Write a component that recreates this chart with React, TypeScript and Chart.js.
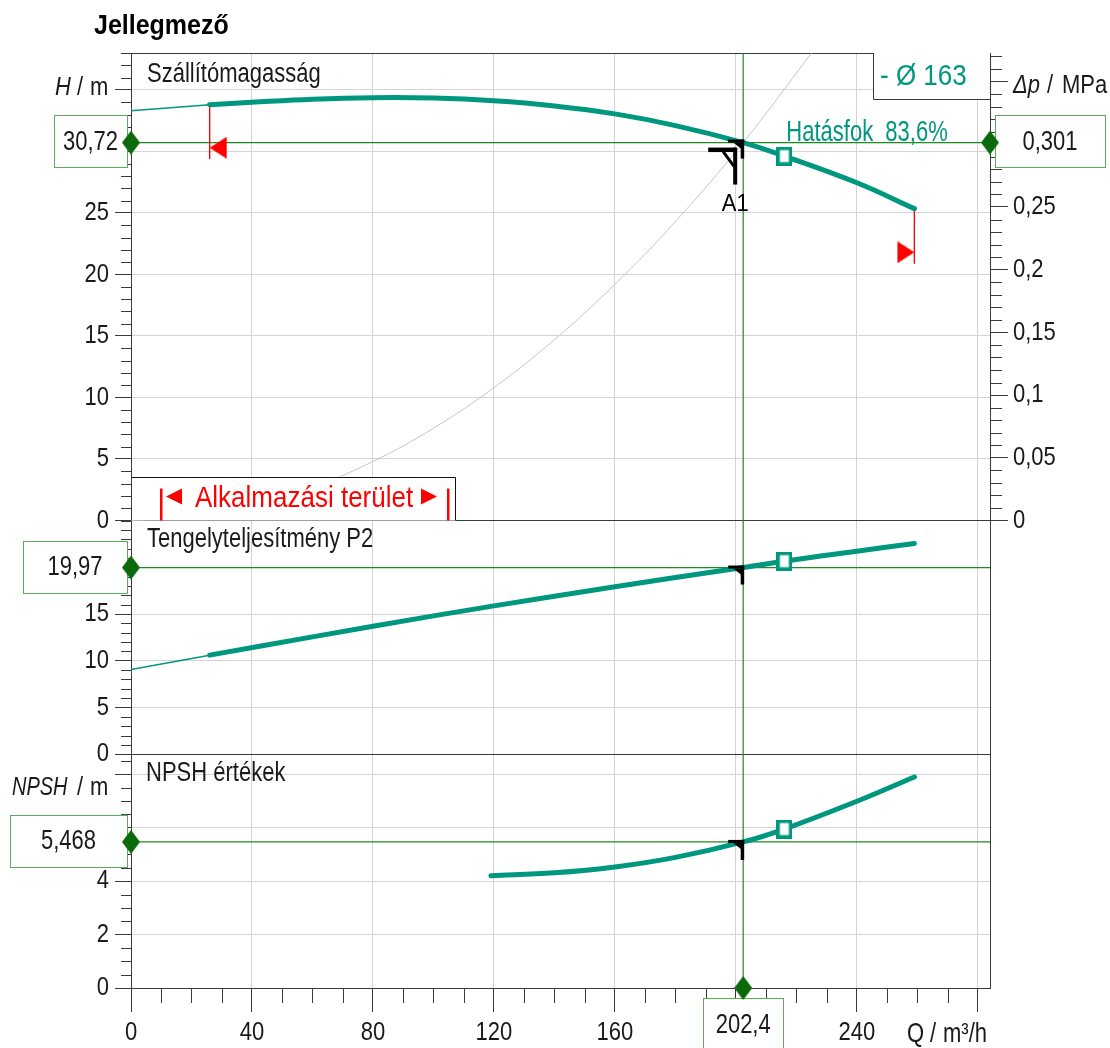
import React, { useEffect, useRef } from 'react';
import { Chart, registerables } from 'chart.js';

Chart.register(...registerables);

// ---------------- texts ----------------
const TITLE = 'Jellegmező';
const PANEL_TITLES = ['Szállítómagasság', 'Tengelyteljesítmény P2', 'NPSH értékek'];
const IMPELLER_LABEL = '- Ø 163';
const EFFICIENCY_LABEL = 'Hatásfok  83,6%';
const RANGE_LABEL = 'Alkalmazási terület';
const POINT_LABEL = 'A1';

// ---------------- data ----------------
// head curve H(Q) – thin extension and thick operating part
const HEAD_EXT_Q = [0, 26];
const HEAD_EXT_H = [33.3, 33.8];
const HEAD_Q = [26, 40, 60, 80, 100, 120, 140, 160, 180, 202.4, 216, 240, 259];
const HEAD_H = [33.8, 34.0, 34.25, 34.37, 34.34, 34.12, 33.7, 33.05, 32.1, 30.72, 29.62, 27.45, 25.35];

// system curve
const SYS_Q = [0, 20, 40, 60, 80, 100, 120, 140, 160, 180, 202.4, 225];
const SYS_H = [0, 0.3, 1.2, 2.7, 4.8, 7.5, 10.8, 14.7, 19.2, 24.3, 30.72, 38.0];

// shaft power P2(Q)
const POWER_EXT_Q = [0, 26];
const POWER_EXT_P = [9.07, 10.6];
const POWER_Q = [26, 60, 100, 140, 180, 202.4, 216, 240, 259];
const POWER_P = [10.6, 12.55, 14.8, 16.9, 18.9, 19.97, 20.65, 21.72, 22.55];

// NPSH(Q)
const NPSH_Q = [119, 140, 160, 180, 202.4, 216, 240, 259];
const NPSH_V = [4.2, 4.31, 4.53, 4.89, 5.468, 5.95, 6.99, 7.9];

// duty point
const DUTY_Q = 202.4;
const DUTY_H = 30.72;
const DUTY_P = 19.97;
const DUTY_NPSH = 5.468;
const DUTY_TEXT = { q: '202,4', h: '30,72', p: '19,97', npsh: '5,468', dp: '0,301' };

// best-efficiency marker
const BEP_Q = 216;
const BEP_H = 29.62;
const BEP_P = 20.65;
const BEP_NPSH = 5.95;

// operating range limits
const LIMIT_Q = [26, 259];
const LIMIT_H_TOP = [33.8, 25.35];
const LIMIT_H_BOTTOM = [29.4, 20.9];
const LIMIT_H_ARROW = [30.3, 21.8];

// ---------------- axes ----------------
const Q_MAX = 284;
const Q_TICKS_LAST = 280;
const Q_MINOR = 10;
const Q_GRID = [0, 40, 80, 120, 160, 200, 240, 280];
const Q_LABELED = [0, 40, 80, 120, 160, 240];

const H_MAX = 38;
const H_GRID = [0, 5, 10, 15, 20, 25, 30, 35];
const H_LABELED = [0, 5, 10, 15, 20, 25];

const DP_PER_M = 0.00981; // MPa per metre of head
const DP_TICKS_LAST = 0.37;
const DP_GRID = [0, 0.05, 0.1, 0.15, 0.2, 0.25, 0.3, 0.35];
const DP_LABELED = [0, 0.05, 0.1, 0.15, 0.2, 0.25];

const P_MAX = 25;
const P_GRID = [0, 5, 10, 15, 20];
const P_LABELED = [0, 5, 10, 15];

const N_MAX = 8.75;
const N_TICKS_LAST = 8.5;
const N_GRID = [0, 2, 4, 6, 8];
const N_LABELED = [0, 2, 4];

// ---------------- styles ----------------
const FONT = "'Liberation Sans', Arial, sans-serif";
const TEAL = '#00977f';
const GREEN = '#1f8a1f';
const DKGREEN = '#0b6a0b';
const BOXGREEN = '#5aae5a';
const GRID = '#d4d4d4';
const AXIS = '#3a3a3a';
const RED = '#ff0000';
const INK = '#1a1a1a';

// the reference renders its lettering a little taller than wide
const TICK_STRETCH = 1.18;
let textStretch = TICK_STRETCH;

function patchContext(ctx: any) {
  if (ctx.__stretched) return;
  const orig = ctx.fillText;
  ctx.fillText = function (t: string, x: number, y: number, mw?: number) {
    this.save();
    this.translate(x, y);
    this.scale(1, textStretch);
    if (mw === undefined) orig.call(this, t, 0, 0);
    else orig.call(this, t, 0, 0, mw);
    this.restore();
  };
  ctx.__stretched = true;
}

const seq = (a: number, b: number, s: number) => {
  const out: number[] = [];
  const n = Math.round((b - a) / s);
  for (let i = 0; i <= n; i++) out.push(Math.round((a + i * s) * 10000) / 10000);
  return out;
};
const has = (arr: number[], v: number) => arr.some((a) => Math.abs(a - v) < 1e-6);
const zip = (xs: number[], ys: number[]) => xs.map((x, i) => ({ x, y: ys[i] }));
const comma = (v: number) => String(Math.round(v * 1000) / 1000).replace('.', ',');

function makeImg(w: number, h: number, draw: (c: CanvasRenderingContext2D) => void) {
  const c = document.createElement('canvas');
  c.width = w;
  c.height = h;
  draw(c.getContext('2d')!);
  return c;
}

function text(
  ctx: CanvasRenderingContext2D,
  s: string,
  x: number,
  y: number,
  size: number,
  color: string,
  k: number,
  align: CanvasTextAlign = 'left',
  style = ''
) {
  ctx.font = `${style} ${size}px ${FONT}`.trim();
  ctx.fillStyle = color;
  ctx.textAlign = align;
  ctx.textBaseline = 'alphabetic';
  textStretch = k;
  ctx.fillText(s, x, y);
  textStretch = TICK_STRETCH;
}

function minorTicks(ctx: CanvasRenderingContext2D, scale: any, majors: number[], len: number, side: string) {
  ctx.beginPath();
  for (const t of scale.ticks) {
    if (has(majors, t.value)) continue;
    const p = Math.round(scale.getPixelForValue(t.value)) + 0.5;
    if (side === 'left') {
      ctx.moveTo(scale.right - len, p);
      ctx.lineTo(scale.right, p);
    } else if (side === 'right') {
      ctx.moveTo(scale.left, p);
      ctx.lineTo(scale.left + len, p);
    } else {
      ctx.moveTo(p, scale.top);
      ctx.lineTo(p, scale.top + len);
    }
  }
  ctx.stroke();
}

function valueBox(ctx: CanvasRenderingContext2D, s: string, left: number, cy: number, w: number, h: number) {
  ctx.fillStyle = '#ffffff';
  ctx.fillRect(left, cy - h / 2, w, h);
  ctx.strokeStyle = BOXGREEN;
  ctx.lineWidth = 1;
  ctx.strokeRect(Math.round(left) + 0.5, Math.round(cy - h / 2) + 0.5, w, h);
  text(ctx, s, left + w / 2, cy + 8.5, 22, INK, 1.27, 'center');
}

function dutyTick(ctx: CanvasRenderingContext2D, px: number, py: number, len: number) {
  ctx.fillStyle = '#000';
  ctx.fillRect(px - 15, py - 2, 16, 3);
  ctx.fillRect(px - 2.5, py - 2, 3.5, len);
  ctx.beginPath();
  ctx.moveTo(px - 10, py + 1);
  ctx.lineTo(px - 1, py + 1);
  ctx.lineTo(px - 1, py + 8);
  ctx.closePath();
  ctx.fill();
}

const decorPlugin = {
  id: 'decor',
  beforeDatasetsDraw(chart: any) {
    const { ctx, chartArea: ca, scales } = chart;
    const { x, y1, y2, y3, yDp } = scales;
    ctx.save();
    // minor ticks
    ctx.strokeStyle = AXIS;
    ctx.lineWidth = 1;
    minorTicks(ctx, y1, H_GRID, 10, 'left');
    minorTicks(ctx, y2, P_GRID, 10, 'left');
    minorTicks(ctx, y3, N_GRID, 10, 'left');
    minorTicks(ctx, yDp, DP_GRID, 12, 'right');
    minorTicks(ctx, x, Q_GRID, 15, 'bottom');

    // title
    text(ctx, TITLE, 94, 34, 25, '#000', 1.1, 'left', 'bold');
    // panel titles
    text(ctx, PANEL_TITLES[0], ca.left + 16, y1.top + 29, 22, INK, 1.28);
    text(ctx, PANEL_TITLES[1], ca.left + 16, y2.top + 26, 22, INK, 1.28);
    text(ctx, PANEL_TITLES[2], ca.left + 15, y3.top + 27, 22, INK, 1.28);

    // axis titles
    const k = 1.18;
    text(ctx, 'H', 55, 95, 22, INK, k, 'left', 'italic');
    text(ctx, '/', 77, 95, 22, INK, k);
    text(ctx, 'm', 90, 95, 22, INK, k);
    text(ctx, 'Δp', 1013, 93, 22, INK, k, 'left', 'italic');
    text(ctx, '/', 1047, 93, 22, INK, k);
    text(ctx, 'MPa', 1062, 93, 22, INK, k);
    text(ctx, 'NPSH', 12, 795, 20, INK, 1.25, 'left', 'italic');
    text(ctx, '/', 77, 795, 22, INK, k);
    text(ctx, 'm', 90, 795, 22, INK, k);
    text(ctx, 'Q', 907, 1042, 22, INK, 1.25);
    text(ctx, '/', 930, 1042, 22, INK, 1.25);
    text(ctx, 'm³/h', 943, 1042, 22, INK, 1.25);

    // duty value boxes
    const hy = y1.getPixelForValue(DUTY_H);
    valueBox(ctx, DUTY_TEXT.h, ca.left - 77, hy - 1.5, 73, 52);
    valueBox(ctx, DUTY_TEXT.dp, ca.right + 5, hy - 1.5, 110, 52);
    valueBox(ctx, DUTY_TEXT.p, ca.left - 108, y2.getPixelForValue(DUTY_P) - 1, 104, 52);
    valueBox(ctx, DUTY_TEXT.npsh, ca.left - 121, y3.getPixelForValue(DUTY_NPSH) - 1, 117, 52);
    const qx = x.getPixelForValue(DUTY_Q);
    valueBox(ctx, DUTY_TEXT.q, qx - 40, ca.bottom + 36, 80, 52);
    ctx.restore();
  },
  afterDatasetsDraw(chart: any) {
    const { ctx, chartArea: ca, scales } = chart;
    const { x, y1, y2, y3 } = scales;
    ctx.save();

    // operating range box
    const bTop = y1.bottom - 44;
    ctx.fillStyle = '#fff';
    ctx.fillRect(ca.left + 1, bTop, 324, 44);
    ctx.strokeStyle = '#111';
    ctx.lineWidth = 1;
    ctx.beginPath();
    ctx.moveTo(ca.left, Math.round(bTop) + 0.5);
    ctx.lineTo(ca.left + 324.5, Math.round(bTop) + 0.5);
    ctx.lineTo(ca.left + 324.5, y1.bottom);
    ctx.stroke();
    ctx.fillStyle = RED;
    const yb = y1.bottom;
    ctx.fillRect(ca.left + 29, yb - 32, 2.5, 32);
    ctx.fillRect(ca.left + 316, yb - 32, 2.5, 32);
    ctx.beginPath();
    ctx.moveTo(ca.left + 35, yb - 24);
    ctx.lineTo(ca.left + 51, yb - 32);
    ctx.lineTo(ca.left + 51, yb - 16);
    ctx.closePath();
    ctx.fill();
    ctx.beginPath();
    ctx.moveTo(ca.left + 306, yb - 24);
    ctx.lineTo(ca.left + 290, yb - 32);
    ctx.lineTo(ca.left + 290, yb - 16);
    ctx.closePath();
    ctx.fill();
    text(ctx, RANGE_LABEL, ca.left + 64, yb - 14, 26, RED, 1.12);

    // impeller legend box
    ctx.fillStyle = '#fff';
    ctx.fillRect(873, ca.top, ca.right - 873, 46);
    ctx.strokeStyle = AXIS;
    ctx.beginPath();
    ctx.moveTo(873.5, ca.top);
    ctx.lineTo(873.5, ca.top + 46.5);
    ctx.lineTo(ca.right, ca.top + 46.5);
    ctx.stroke();
    text(ctx, IMPELLER_LABEL, 880, ca.top + 32, 26, TEAL, 1.1);

    // efficiency label
    const bx = x.getPixelForValue(BEP_Q);
    const by = y1.getPixelForValue(BEP_H);
    text(ctx, EFFICIENCY_LABEL, bx + 2, by - 15, 22, TEAL, 1.3);

    // duty-point markers
    const px = x.getPixelForValue(DUTY_Q);
    const hy = y1.getPixelForValue(DUTY_H);
    dutyTick(ctx, px, hy - 1, 19);
    dutyTick(ctx, px, y2.getPixelForValue(DUTY_P), 19);
    dutyTick(ctx, px, y3.getPixelForValue(DUTY_NPSH), 20);
    // A1 symbol
    ctx.fillStyle = '#000';
    ctx.fillRect(px - 35, hy + 5, 28, 4.5);
    ctx.fillRect(px - 10, hy + 5, 4, 37);
    ctx.strokeStyle = '#000';
    ctx.lineWidth = 3;
    ctx.beginPath();
    ctx.moveTo(px - 20, hy + 9);
    ctx.lineTo(px - 9, hy + 24);
    ctx.stroke();
    text(ctx, POINT_LABEL, px - 8, hy + 68, 22, '#000', 1.1, 'center');
    ctx.restore();
  },
};

export default function App() {
  const ref = useRef<HTMLCanvasElement>(null);

  useEffect(() => {
    const canvas = ref.current;
    if (!canvas) return;
    const ctx0 = canvas.getContext('2d');
    if (ctx0) patchContext(ctx0);

    const diamond = makeImg(18, 24, (c) => {
      c.fillStyle = DKGREEN;
      c.beginPath();
      c.moveTo(9, 0);
      c.lineTo(18, 12);
      c.lineTo(9, 24);
      c.lineTo(0, 12);
      c.closePath();
      c.fill();
    });
    const square = makeImg(16, 19, (c) => {
      c.fillStyle = '#fff';
      c.fillRect(0, 0, 16, 19);
      c.strokeStyle = TEAL;
      c.lineWidth = 3.5;
      c.strokeRect(1.75, 1.75, 12.5, 15.5);
    });
    const triLeft = makeImg(36, 22, (c) => {
      c.fillStyle = RED;
      c.beginPath();
      c.moveTo(18, 11);
      c.lineTo(35, 0);
      c.lineTo(35, 22);
      c.closePath();
      c.fill();
    });
    const triRight = makeImg(36, 22, (c) => {
      c.fillStyle = RED;
      c.beginPath();
      c.moveTo(18, 11);
      c.lineTo(1, 0);
      c.lineTo(1, 22);
      c.closePath();
      c.fill();
    });

    const pointDs = (data: any[], yAxisID: string, img: any) => ({
      data,
      yAxisID,
      showLine: false,
      pointStyle: img,
      pointRadius: 10,
      clip: false as any,
    });
    const lineDs = (data: any[], yAxisID: string, color: string, width: number, tension = 0) => ({
      data,
      yAxisID,
      borderColor: color,
      borderWidth: width,
      pointRadius: 0,
      borderCapStyle: 'round' as any,
      tension,
    });

    const datasets: any[] = [
      pointDs([{ x: 0, y: DUTY_H }, { x: Q_MAX, y: DUTY_H }], 'y1', diamond),
      pointDs([{ x: 0, y: DUTY_P }], 'y2', diamond),
      pointDs([{ x: 0, y: DUTY_NPSH }, { x: DUTY_Q, y: 0 }], 'y3', diamond),
      pointDs([{ x: BEP_Q, y: BEP_H }], 'y1', square),
      pointDs([{ x: BEP_Q, y: BEP_P }], 'y2', square),
      pointDs([{ x: BEP_Q, y: BEP_NPSH }], 'y3', square),
      lineDs(zip(HEAD_Q, HEAD_H), 'y1', TEAL, 5, 0.4),
      lineDs(zip(POWER_Q, POWER_P), 'y2', TEAL, 5, 0.4),
      lineDs(zip(NPSH_Q, NPSH_V), 'y3', TEAL, 5, 0.4),
      pointDs([{ x: LIMIT_Q[0], y: LIMIT_H_ARROW[0] }], 'y1', triLeft),
      pointDs([{ x: LIMIT_Q[1], y: LIMIT_H_ARROW[1] }], 'y1', triRight),
      lineDs([{ x: LIMIT_Q[0], y: LIMIT_H_TOP[0] }, { x: LIMIT_Q[0], y: LIMIT_H_BOTTOM[0] }], 'y1', RED, 1),
      lineDs([{ x: LIMIT_Q[1], y: LIMIT_H_TOP[1] }, { x: LIMIT_Q[1], y: LIMIT_H_BOTTOM[1] }], 'y1', RED, 1),
      lineDs([{ x: 0, y: DUTY_H }, { x: Q_MAX, y: DUTY_H }], 'y1', GREEN, 1.2),
      lineDs([{ x: 0, y: DUTY_P }, { x: Q_MAX, y: DUTY_P }], 'y2', GREEN, 1.2),
      lineDs([{ x: 0, y: DUTY_NPSH }, { x: Q_MAX, y: DUTY_NPSH }], 'y3', GREEN, 1.2),
      lineDs([{ x: DUTY_Q, y: 0 }, { x: DUTY_Q, y: H_MAX }], 'y1', GREEN, 1.2),
      lineDs([{ x: DUTY_Q, y: 0 }, { x: DUTY_Q, y: P_MAX }], 'y2', GREEN, 1.2),
      lineDs([{ x: DUTY_Q, y: 0 }, { x: DUTY_Q, y: N_MAX }], 'y3', GREEN, 1.2),
      lineDs(zip(HEAD_EXT_Q, HEAD_EXT_H), 'y1', TEAL, 1.5),
      lineDs(zip(POWER_EXT_Q, POWER_EXT_P), 'y2', TEAL, 1.5),
      lineDs(zip(SYS_Q, SYS_H), 'y1', '#c6c6c6', 1, 0.4),
    ];

    const tickFont = { family: FONT, size: 22 };
    const leftAxis = (
      max: number,
      ticks: number[],
      grid: number[],
      labeled: number[],
      weight: number,
      stackWeight: number,
      darkTop: boolean
    ) => ({
      type: 'linear',
      position: 'left',
      stack: 'L',
      stackWeight,
      weight,
      min: 0,
      max,
      afterBuildTicks: (s: any) => {
        s.ticks = ticks.map((v) => ({ value: v }));
      },
      afterFit: (s: any) => {
        s.width = 131;
      },
      ticks: {
        autoSkip: false,
        padding: 6,
        color: INK,
        font: tickFont,
        callback: (v: any) => (has(labeled, Number(v)) ? comma(Number(v)) : ''),
      },
      grid: {
        lineWidth: 1,
        tickLength: 16,
        color: (c: any) => {
          const v = c.tick ? c.tick.value : NaN;
          if (v === 0) return AXIS;
          if (Math.abs(v - max) < 1e-6) return darkTop ? AXIS : 'rgba(0,0,0,0)';
          return has(grid, v) ? GRID : 'rgba(0,0,0,0)';
        },
        tickColor: (c: any) => (c.tick && has(grid, c.tick.value) ? AXIS : 'rgba(0,0,0,0)'),
      },
      border: { color: AXIS, width: 1 },
    });

    const DP_MAX = H_MAX * DP_PER_M;

    const chart = new Chart(canvas, {
      type: 'line',
      data: { datasets },
      options: {
        responsive: false,
        animation: false,
        events: [],
        layout: { padding: { top: 53, left: 0, right: 0, bottom: 0 } },
        plugins: { legend: { display: false }, tooltip: { enabled: false }, title: { display: false } },
        scales: {
          x: {
            type: 'linear',
            position: 'bottom',
            min: 0,
            max: Q_MAX,
            afterBuildTicks: (s: any) => {
              s.ticks = seq(0, Q_TICKS_LAST, Q_MINOR).map((v) => ({ value: v }));
            },
            afterFit: (s: any) => {
              s.height = 60;
            },
            ticks: {
              autoSkip: false,
              maxRotation: 0,
              padding: 8,
              color: INK,
              font: tickFont,
              callback: (v: any) => (has(Q_LABELED, Number(v)) ? String(v) : ''),
            },
            grid: {
              tickLength: 24,
              color: (c: any) => (c.tick && has(Q_GRID, c.tick.value) ? GRID : 'rgba(0,0,0,0)'),
              tickColor: (c: any) => (c.tick && has(Q_GRID, c.tick.value) ? AXIS : 'rgba(0,0,0,0)'),
            },
            border: { color: AXIS, width: 1 },
          },
          y1: leftAxis(H_MAX, seq(0, H_MAX, 1), H_GRID, H_LABELED, 3, 2, true),
          y2: leftAxis(P_MAX, seq(0, P_MAX, 1), P_GRID, P_LABELED, 2, 1, false),
          y3: leftAxis(N_MAX, seq(0, N_TICKS_LAST, 0.5), N_GRID, N_LABELED, 1, 1, false),
          yDp: {
            type: 'linear',
            position: 'right',
            min: -DP_MAX,
            max: DP_MAX,
            afterBuildTicks: (s: any) => {
              s.ticks = seq(0, DP_TICKS_LAST, 0.01).map((v) => ({ value: v }));
            },
            afterFit: (s: any) => {
              s.width = 120;
            },
            ticks: {
              autoSkip: false,
              padding: 5,
              color: INK,
              font: tickFont,
              callback: (v: any) => (has(DP_LABELED, Number(v)) ? comma(Number(v)) : ''),
            },
            grid: {
              drawOnChartArea: false,
              tickLength: 18,
              tickColor: (c: any) => (c.tick && has(DP_GRID, c.tick.value) ? AXIS : 'rgba(0,0,0,0)'),
            },
            border: { color: AXIS, width: 1 },
          },
        } as any,
      },
      plugins: [decorPlugin],
    } as any);

    return () => chart.destroy();
  }, []);

  return (
    <div style={{ position: 'absolute', left: 0, top: 0, width: 1110, height: 1048, background: '#fff' }}>
      <canvas ref={ref} width={1110} height={1048} style={{ display: 'block', width: 1110, height: 1048 }} />
    </div>
  );
}
